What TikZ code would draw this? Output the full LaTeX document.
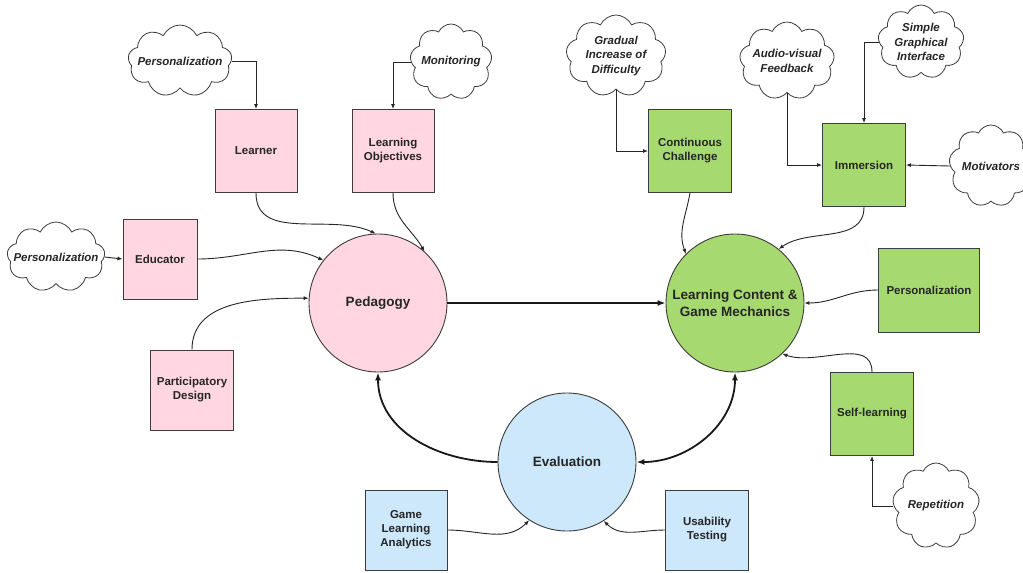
\documentclass[tikz,border=0pt]{standalone}
\usepackage{fontspec}
\setmainfont{Liberation Sans}
\usetikzlibrary{shapes.symbols,arrows.meta}
\definecolor{pinkf}{RGB}{255,214,225}
\definecolor{greenf}{RGB}{166,217,112}
\definecolor{bluef}{RGB}{204,232,250}
\definecolor{edgec}{RGB}{60,60,60}
\tikzset{
  box/.style={draw=edgec, line width=0.9pt, minimum width=82pt, minimum height=83pt, inner sep=1pt, align=center,
    font=\fontsize{11.5}{14}\selectfont\bfseries, text=black!85},
  pbox/.style={box, fill=pinkf},
  gbox/.style={box, fill=greenf},
  bbox/.style={box, fill=bluef},
  hub/.style={circle, draw=edgec, line width=0.9pt, minimum size=138pt, inner sep=0pt, align=center,
    font=\fontsize{13.5}{17}\selectfont\bfseries, text=black!85},
  cloudy/.style={cloud, cloud puffs=9, cloud puff arc=130, cloud ignores aspect, draw=edgec, line width=0.8pt, fill=white, inner sep=0pt},
  ctext/.style={font=\fontsize{11.5}{14.5}\selectfont\bfseries\itshape, align=center, text=black!85},
  conn/.style={draw=black!85, line width=0.9pt, -{Latex[length=5pt,width=4pt]}},
  mainlink/.style={draw=black!90, line width=1.8pt, -{Latex[length=8pt,width=6pt]}},
  duallink/.style={draw=black!90, line width=1.8pt, {Latex[length=8pt,width=6pt]}-{Latex[length=8pt,width=6pt]}}
}
\begin{document}
\begin{tikzpicture}[x=1pt,y=-1pt]
\useasboundingbox (0,0) rectangle (1023,573);
\fill[white] (0,0) rectangle (1023,573);

% hubs
\node[hub, fill=pinkf] (ped) at (378,303) {Pedagogy};
\node[hub, fill=greenf] (lc) at (735,303) {Learning Content \&\\Game Mechanics};
\node[hub, fill=bluef] (ev) at (567,462) {Evaluation};

% boxes
\node[pbox] (learner) at (256,151) {Learner};
\node[pbox] (lo) at (393,151) {Learning\\Objectives};
\node[pbox, minimum width=74pt, minimum height=80pt] (educator) at (160,259) {Educator};
\node[pbox, minimum width=83pt, minimum height=80pt] (pd) at (192,390) {Participatory\\Design};
\node[bbox, minimum height=80pt] (gla) at (406,530) {Game\\Learning\\Analytics};
\node[bbox, minimum width=83pt, minimum height=80pt] (ut) at (707,530) {Usability\\Testing};
\node[gbox, minimum width=83pt] (cc) at (690,151) {Continuous\\Challenge};
\node[gbox, minimum width=83pt] (imm) at (864,165) {Immersion};
\node[gbox, minimum width=101pt, minimum height=84pt] (pers) at (929,290) {Personalization};
\node[gbox, minimum width=83pt] (sl) at (872,414) {Self-learning};

% clouds
\node[cloudy, minimum width=104pt, minimum height=72pt, label={[ctext]center:Personalization}] (c1) at (180,61) {};
\node[cloudy, minimum width=82pt, minimum height=76pt, label={[ctext]center:Monitoring}] (c2) at (451,62) {};
\node[cloudy, minimum width=98pt, minimum height=70pt, label={[ctext]center:Personalization}] (c3) at (56,257) {};
\node[cloudy, minimum width=100pt, minimum height=82pt, label={[ctext]center:{Gradual\\Increase of\\Difficulty}}] (c4) at (616,56) {};
\node[cloudy, minimum width=95pt, minimum height=78pt, label={[ctext]center:{Audio-visual\\Feedback}}] (c5) at (787,61) {};
\node[cloudy, minimum width=86pt, minimum height=74pt, label={[ctext]center:{Simple\\Graphical\\Interface}}] (c6) at (921,42) {};
\node[cloudy, minimum width=84pt, minimum height=82pt, label={[ctext]center:Motivators}] (c7) at (991,166) {};
\node[cloudy, minimum width=87pt, minimum height=86pt, label={[ctext]center:Repetition}] (c8) at (936,506) {};

% cloud connectors
\draw[conn] (c1.east) -| (learner.north);
\draw[conn] (c2.west) -| (lo.north);
\draw[conn] (c3.east) -- (educator.west);
\draw[conn] (c4.south) |- (cc.west);
\draw[conn] (c5.south) |- (imm.west);
\draw[conn] (c6.west) -| (imm.north);
\draw[conn] (c7.west) -- (imm.east);
\draw[conn] (c8.west) -| (sl.south);

% box to hub connectors
\draw[conn] (learner.south) to[out=-90,in=155] (ped.92);
\draw[conn] (lo.south) to[out=-90,in=120] (ped.48);
\draw[conn] (educator.east) to[out=0,in=155] (ped.142);
\draw[conn] (pd.north) to[out=90,in=180] (ped.176);
\draw[conn] (gla.east) to[out=0,in=225] (ev.237);
\draw[conn] (ut.west) to[out=180,in=-45] (ev.302);
\draw[conn] (cc.south) to[out=-100,in=110] (lc.135);
\draw[conn] (imm.south) to[out=-90,in=35] (lc.51);
\draw[conn] (pers.west) to[out=180,in=0] (lc.0);
\draw[conn] (sl.north) to[out=90,in=-20] (lc.-47);

% main links
\draw[mainlink] (ped.east) -- (lc.west);
\draw[mainlink] (ev.west) to[out=180,in=-90] (ped.south);
\draw[duallink] (ev.east) to[out=0,in=-90] (lc.south);
\end{tikzpicture}
\end{document}
